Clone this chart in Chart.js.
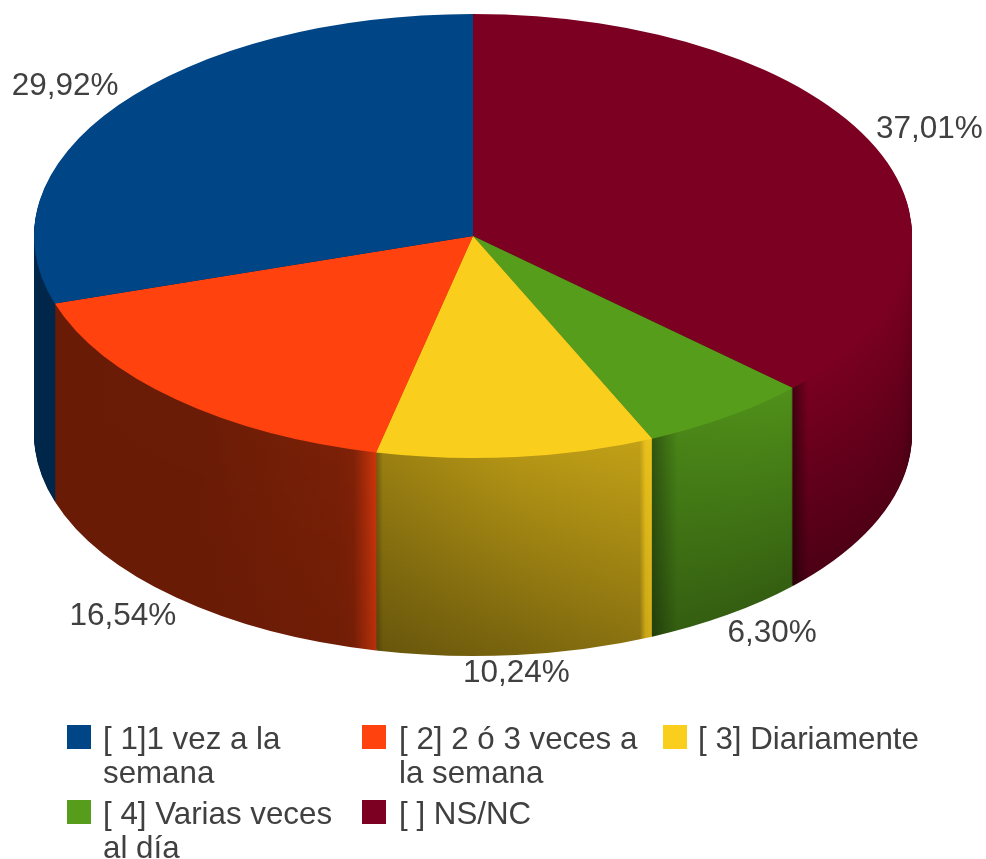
<!DOCTYPE html>
<html lang="es">
  <head>
    <meta charset="UTF-8" />
    <title>Frecuencia</title>
    <script src="https://cdn.jsdelivr.net/npm/chart.js"></script>
    <style>
      body {
        margin: 0;
        background: #fff;
      }
      canvas {
        display: block;
      }
    </style>
  </head>
  <body>
    <canvas id="pie3d" width="986" height="859"></canvas>
    <script>
      // legend order; the slices run the other way round the pie
      const categories = [
        "[ 1]1 vez a la semana",
        "[ 2] 2 ó 3 veces a la semana",
        "[ 3] Diariamente",
        "[ 4] Varias veces al día",
        "[ ] NS/NC",
      ];
      const legendLines = [
        ["[ 1]1 vez a la", "semana"],
        ["[ 2] 2 ó 3 veces a", "la semana"],
        ["[ 3] Diariamente"],
        ["[ 4] Varias veces", "al día"],
        ["[ ] NS/NC"],
      ];
      const percentages = [29.92, 16.54, 10.24, 6.3, 37.01];
      const colors = ["#004586", "#ff420e", "#f9ce1d", "#579d1c", "#7b0021"];

      // side wall shading: [position along wall, factor at top, factor at bottom]
      const wallShades = [
        [[0, 0.55, 0.55], [1, 0.55, 0.55]],
        [[0, 0.41, 0.41], [0.45, 0.42, 0.41], [0.88, 0.48, 0.44], [0.93, 0.5, 0.46], [1, 0.8, 0.72]],
        [[0, 0.45, 0.32], [0.025, 0.62, 0.42], [0.5, 0.72, 0.48], [0.955, 0.78, 0.56], [0.975, 0.93, 0.8], [1, 0.95, 0.85]],
        [[0, 0.55, 0.4], [0.18, 0.85, 0.6], [1, 0.92, 0.6]],
        [[0, 0.55, 0.35], [0.13, 0.99, 0.62], [0.9, 0.99, 0.66], [1, 0.98, 0.58]],
      ];

      const RADIUS = 439;
      const SQUASH = 222 / 439;
      const DEPTH = 198;
      const TEXT_COLOR = "#404040";
      const LABEL_FONT = '31.5px "Liberation Sans", Arial, sans-serif';
      const LEGEND_FONT = '31.3px "Liberation Sans", Arial, sans-serif';

      function shade(hex, f) {
        const n = parseInt(hex.slice(1), 16);
        const r = Math.round(((n >> 16) & 255) * f);
        const g = Math.round(((n >> 8) & 255) * f);
        const b = Math.round((n & 255) * f);
        return `rgb(${r},${g},${b})`;
      }

      function squash(ctx, arc, drop) {
        ctx.translate(arc.x, arc.y + drop);
        ctx.scale(1, SQUASH);
        ctx.translate(-arc.x, -arc.y);
      }

      function wallGradient(ctx, arc, index, t) {
        const lo = Math.max(arc.startAngle, 0);
        const hi = Math.min(arc.endAngle, Math.PI);
        if (hi <= lo) return colors[index];
        const x0 = arc.x + RADIUS * Math.cos(hi);
        const x1 = arc.x + RADIUS * Math.cos(lo);
        const grad = ctx.createLinearGradient(x0, 0, x1, 0);
        wallShades[index].forEach(([pos, top, bottom]) => {
          grad.addColorStop(pos, shade(colors[index], top + (bottom - top) * t));
        });
        return grad;
      }

      const pie3d = {
        id: "pie3d",
        beforeDatasetsDraw(chart) {
          const ctx = chart.ctx;
          const arcs = chart.getDatasetMeta(0).data;
          // stack the arcs from the bottom up, that makes the wall
          for (let d = DEPTH; d >= 1; d--) {
            arcs.forEach((arc, i) => {
              const index = categories.length - 1 - i;
              const original = arc.options.backgroundColor;
              ctx.save();
              squash(ctx, arc, d);
              arc.options.backgroundColor = wallGradient(ctx, arc, index, d / DEPTH);
              arc.draw(ctx);
              arc.options.backgroundColor = original;
              ctx.restore();
            });
          }
          ctx.save();
          squash(ctx, arcs[0], 0);
        },
        afterDatasetsDraw(chart) {
          const ctx = chart.ctx;
          ctx.restore();
          drawPercentages(chart);
          drawLegend(ctx);
        },
      };

      function drawPercentages(chart) {
        const ctx = chart.ctx;
        ctx.save();
        ctx.font = LABEL_FONT;
        ctx.fillStyle = TEXT_COLOR;
        chart.getDatasetMeta(0).data.forEach((arc, i) => {
          const value = percentages[categories.length - 1 - i];
          const mid = (arc.startAngle + arc.endAngle) / 2;
          const cos = Math.cos(mid);
          const sin = Math.sin(mid);
          const front = sin > 0;
          const x = arc.x + RADIUS * cos;
          const y = arc.y + RADIUS * SQUASH * sin + (front ? DEPTH : 0);
          ctx.textAlign = Math.abs(cos) < 0.2 ? "center" : cos > 0 ? "left" : "right";
          ctx.textBaseline = front ? "top" : "bottom";
          const text = value.toFixed(2).replace(".", ",") + "%";
          ctx.fillText(text, x, y + (front ? 3 : -3));
        });
        ctx.restore();
      }

      function drawLegend(ctx) {
        const boxX = [67, 362, 663];
        const textX = [103, 399, 698];
        const rowY = [749, 824];
        const lineHeight = 34;
        ctx.save();
        ctx.font = LEGEND_FONT;
        ctx.textAlign = "left";
        ctx.textBaseline = "alphabetic";
        legendLines.forEach((lines, i) => {
          const col = i % 3;
          const base = rowY[Math.floor(i / 3)];
          ctx.fillStyle = colors[i];
          ctx.fillRect(boxX[col], base - 24, 24, 24);
          ctx.fillStyle = TEXT_COLOR;
          lines.forEach((line, n) => {
            ctx.fillText(line, textX[col], base + n * lineHeight);
          });
        });
        ctx.restore();
      }

      new Chart(document.getElementById("pie3d"), {
        type: "pie",
        data: {
          labels: categories.slice().reverse(),
          datasets: [
            {
              data: percentages.slice().reverse(),
              backgroundColor: colors.slice().reverse(),
              borderWidth: 0,
              clip: false,
            },
          ],
        },
        options: {
          responsive: false,
          animation: false,
          radius: RADIUS,
          layout: { padding: { left: 34, right: 74, top: 0, bottom: 387 } },
          plugins: {
            legend: { display: false },
            tooltip: { enabled: false },
          },
        },
        plugins: [pie3d],
      });
    </script>
  </body>
</html>
